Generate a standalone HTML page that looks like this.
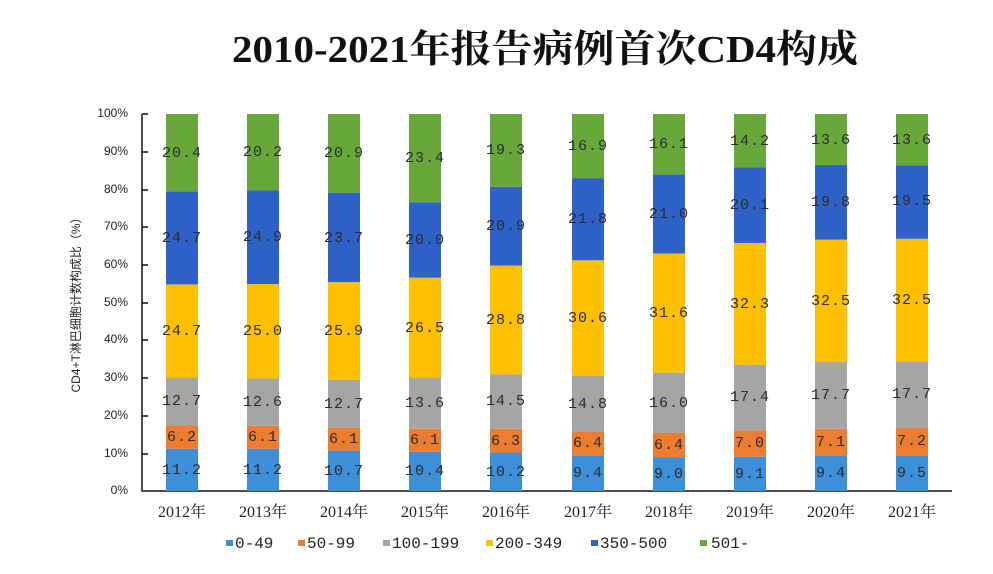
<!DOCTYPE html>
<html><head><meta charset="utf-8"><style>
body{margin:0;background:#fff;}
svg{display:block}
.t{font-family:"Liberation Mono","Noto Sans CJK SC",monospace;font-size:15px;letter-spacing:1px;fill:#2a2a2a;text-anchor:middle;dominant-baseline:middle}
.ax{font-family:"Liberation Sans",sans-serif;font-size:12px;fill:#222;text-anchor:end;dominant-baseline:middle}
.xl{font-family:"Liberation Serif","Noto Serif CJK SC",serif;font-size:16px;fill:#222;text-anchor:middle}
.lg{font-family:"Liberation Mono",monospace;font-size:16px;fill:#222;dominant-baseline:middle}
</style></head><body>
<svg width="993" height="574" xmlns="http://www.w3.org/2000/svg">
<text x="545" y="62" text-anchor="middle" textLength="626" lengthAdjust="spacingAndGlyphs" style="font-family:'Liberation Serif','Noto Serif CJK SC',serif;font-size:38px;font-weight:bold;fill:#111">2010-2021年报告病例首次CD4构成</text>
<text transform="translate(80 302) rotate(-90)" text-anchor="middle" style="font-family:'Liberation Sans','Noto Sans CJK SC',sans-serif;font-size:12px;fill:#222">CD4+T淋巴细胞计数构成比（%）</text>
<g>
<text class="ax" x="128" y="114">100%</text><text class="ax" x="128" y="152">90%</text><text class="ax" x="128" y="190">80%</text><text class="ax" x="128" y="227">70%</text><text class="ax" x="128" y="265">60%</text><text class="ax" x="128" y="303">50%</text><text class="ax" x="128" y="340">40%</text><text class="ax" x="128" y="378">30%</text><text class="ax" x="128" y="416">20%</text><text class="ax" x="128" y="454">10%</text><text class="ax" x="128" y="491">0%</text>
</g>
<g stroke="#111" stroke-width="1.5" fill="none">
<path d="M142 114V491H952"/>
<path d="M142 114h6M142 152h6M142 190h6M142 227h6M142 265h6M142 303h6M142 340h6M142 378h6M142 416h6M142 454h6"/>
</g>
<g transform="translate(0 491) scale(1 -3.77)">
<g fill="#3d8fd9"><rect x="166" y="0" width="32" height="11.2"/><rect x="247" y="0" width="32" height="11.2"/><rect x="328" y="0" width="32" height="10.7"/><rect x="409" y="0" width="32" height="10.4"/><rect x="490" y="0" width="32" height="10.2"/><rect x="572" y="0" width="32" height="9.4"/><rect x="653" y="0" width="32" height="9.0"/><rect x="734" y="0" width="32" height="9.1"/><rect x="815" y="0" width="32" height="9.4"/><rect x="896" y="0" width="32" height="9.5"/></g>
<g fill="#ed7d31"><rect x="166" y="11.2" width="32" height="6.2"/><rect x="247" y="11.2" width="32" height="6.1"/><rect x="328" y="10.7" width="32" height="6.1"/><rect x="409" y="10.4" width="32" height="6.1"/><rect x="490" y="10.2" width="32" height="6.3"/><rect x="572" y="9.4" width="32" height="6.4"/><rect x="653" y="9.0" width="32" height="6.4"/><rect x="734" y="9.1" width="32" height="7.0"/><rect x="815" y="9.4" width="32" height="7.1"/><rect x="896" y="9.5" width="32" height="7.2"/></g>
<g fill="#a5a5a5"><rect x="166" y="17.4" width="32" height="12.7"/><rect x="247" y="17.3" width="32" height="12.6"/><rect x="328" y="16.8" width="32" height="12.7"/><rect x="409" y="16.5" width="32" height="13.6"/><rect x="490" y="16.5" width="32" height="14.5"/><rect x="572" y="15.8" width="32" height="14.8"/><rect x="653" y="15.4" width="32" height="16.0"/><rect x="734" y="16.1" width="32" height="17.4"/><rect x="815" y="16.5" width="32" height="17.7"/><rect x="896" y="16.7" width="32" height="17.7"/></g>
<g fill="#ffc000"><rect x="166" y="30.1" width="32" height="24.7"/><rect x="247" y="29.9" width="32" height="25.0"/><rect x="328" y="29.5" width="32" height="25.9"/><rect x="409" y="30.1" width="32" height="26.5"/><rect x="490" y="31.0" width="32" height="28.8"/><rect x="572" y="30.6" width="32" height="30.6"/><rect x="653" y="31.4" width="32" height="31.6"/><rect x="734" y="33.5" width="32" height="32.3"/><rect x="815" y="34.2" width="32" height="32.5"/><rect x="896" y="34.4" width="32" height="32.5"/></g>
<g fill="#2e62c8"><rect x="166" y="54.8" width="32" height="24.7"/><rect x="247" y="54.9" width="32" height="24.9"/><rect x="328" y="55.4" width="32" height="23.7"/><rect x="409" y="56.6" width="32" height="20.0"/><rect x="490" y="59.8" width="32" height="20.9"/><rect x="572" y="61.2" width="32" height="21.8"/><rect x="653" y="63.0" width="32" height="21.0"/><rect x="734" y="65.8" width="32" height="20.1"/><rect x="815" y="66.7" width="32" height="19.8"/><rect x="896" y="66.9" width="32" height="19.5"/></g>
<g fill="#68a83a"><rect x="166" y="79.5" width="32" height="20.5"/><rect x="247" y="79.8" width="32" height="20.2"/><rect x="328" y="79.1" width="32" height="20.9"/><rect x="409" y="76.6" width="32" height="23.4"/><rect x="490" y="80.7" width="32" height="19.3"/><rect x="572" y="83.0" width="32" height="17.0"/><rect x="653" y="84.0" width="32" height="16.0"/><rect x="734" y="85.9" width="32" height="14.1"/><rect x="815" y="86.5" width="32" height="13.5"/><rect x="896" y="86.4" width="32" height="13.6"/></g>
</g>
<g>
<text class="t" x="182" y="470">11.2</text><text class="t" x="182" y="437">6.2</text><text class="t" x="182" y="401">12.7</text><text class="t" x="182" y="331">24.7</text><text class="t" x="182" y="238">24.7</text><text class="t" x="182" y="153">20.4</text>
<text class="t" x="263" y="470">11.2</text><text class="t" x="263" y="437">6.1</text><text class="t" x="263" y="402">12.6</text><text class="t" x="263" y="331">25.0</text><text class="t" x="263" y="237">24.9</text><text class="t" x="263" y="152">20.2</text>
<text class="t" x="344" y="471">10.7</text><text class="t" x="344" y="439">6.1</text><text class="t" x="344" y="404">12.7</text><text class="t" x="344" y="331">25.9</text><text class="t" x="344" y="238">23.7</text><text class="t" x="344" y="153">20.9</text>
<text class="t" x="425" y="471">10.4</text><text class="t" x="425" y="440">6.1</text><text class="t" x="425" y="403">13.6</text><text class="t" x="425" y="328">26.5</text><text class="t" x="425" y="240">20.0</text><text class="t" x="425" y="158">23.4</text>
<text class="t" x="506" y="472">10.2</text><text class="t" x="506" y="441">6.3</text><text class="t" x="506" y="401">14.5</text><text class="t" x="506" y="320">28.8</text><text class="t" x="506" y="226">20.9</text><text class="t" x="506" y="150">19.3</text>
<text class="t" x="588" y="473">9.4</text><text class="t" x="588" y="443">6.4</text><text class="t" x="588" y="404">14.8</text><text class="t" x="588" y="318">30.6</text><text class="t" x="588" y="219">21.8</text><text class="t" x="588" y="146">16.9</text>
<text class="t" x="669" y="474">9.0</text><text class="t" x="669" y="445">6.4</text><text class="t" x="669" y="403">16.0</text><text class="t" x="669" y="313">31.6</text><text class="t" x="669" y="214">21.0</text><text class="t" x="669" y="144">16.1</text>
<text class="t" x="750" y="474">9.1</text><text class="t" x="750" y="443">7.0</text><text class="t" x="750" y="397">17.4</text><text class="t" x="750" y="304">32.3</text><text class="t" x="750" y="205">20.1</text><text class="t" x="750" y="141">14.2</text>
<text class="t" x="831" y="473">9.4</text><text class="t" x="831" y="442">7.1</text><text class="t" x="831" y="395">17.7</text><text class="t" x="831" y="301">32.5</text><text class="t" x="831" y="202">19.8</text><text class="t" x="831" y="140">13.6</text>
<text class="t" x="912" y="473">9.5</text><text class="t" x="912" y="441">7.2</text><text class="t" x="912" y="394">17.7</text><text class="t" x="912" y="300">32.5</text><text class="t" x="912" y="201">19.5</text><text class="t" x="912" y="140">13.6</text>
</g>
<g>
<text class="xl" x="182" y="517">2012年</text><text class="xl" x="263" y="517">2013年</text><text class="xl" x="344" y="517">2014年</text><text class="xl" x="425" y="517">2015年</text><text class="xl" x="506" y="517">2016年</text><text class="xl" x="588" y="517">2017年</text><text class="xl" x="669" y="517">2018年</text><text class="xl" x="750" y="517">2019年</text><text class="xl" x="831" y="517">2020年</text><text class="xl" x="912" y="517">2021年</text>
</g>
<g>
<rect x="226" y="540" width="7" height="6" fill="#3d8fd9"/><text class="lg" x="235" y="544">0-49</text>
<rect x="298" y="540" width="7" height="6" fill="#ed7d31"/><text class="lg" x="307" y="544">50-99</text>
<rect x="383" y="540" width="7" height="6" fill="#a5a5a5"/><text class="lg" x="392" y="544">100-199</text>
<rect x="486" y="540" width="7" height="6" fill="#ffc000"/><text class="lg" x="495" y="544">200-349</text>
<rect x="591" y="540" width="7" height="6" fill="#2e62c8"/><text class="lg" x="600" y="544">350-500</text>
<rect x="700" y="540" width="7" height="6" fill="#68a83a"/><text class="lg" x="711" y="544">501-</text>
</g>
</svg>
</body></html>
